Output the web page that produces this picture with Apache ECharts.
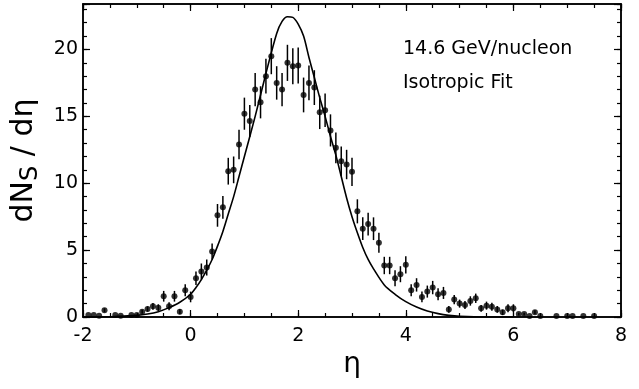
<!DOCTYPE html>
<html>
<head>
<meta charset="utf-8">
<script src="https://cdn.jsdelivr.net/npm/echarts@6/dist/echarts.min.js"></script>
<style>
html,body{margin:0;padding:0;background:#fff;}
#c{width:639px;height:389px;}
</style>
</head>
<body>
<div id="c"></div>
<script>
// Measured points: pseudorapidity, dN_S/deta, error half-length
const eta = [-1.9,-1.8,-1.7,-1.6,-1.4,-1.3,-1.1,-1.0,-0.9,-0.8,-0.7,-0.6,-0.5,-0.4,-0.3,-0.2,-0.1,0.0,0.1,0.2,0.3,0.4,0.5,0.6,0.7,0.8,0.9,1.0,1.1,1.2,1.3,1.4,1.5,1.6,1.7,1.8,1.9,2.0,2.1,2.2,2.3,2.4,2.5,2.6,2.7,2.8,2.9,3.0,3.1,3.2,3.3,3.4,3.5,3.6,3.7,3.8,3.9,4.0,4.1,4.2,4.3,4.4,4.5,4.6,4.7,4.8,4.9,5.0,5.1,5.2,5.3,5.4,5.5,5.6,5.7,5.8,5.9,6.0,6.1,6.2,6.3,6.4,6.5,6.8,7.0,7.1,7.3,7.5];
const dNdEta = [0.15,0.15,0.1,0.5,0.15,0.1,0.15,0.15,0.4,0.6,0.8,0.7,1.55,0.8,1.55,0.4,2.0,1.5,2.9,3.4,3.7,4.9,7.6,8.2,10.9,11.0,12.9,15.2,14.65,17.0,16.05,18.0,19.5,17.5,17.0,19.0,18.75,18.8,16.6,17.5,17.15,15.3,15.45,13.95,12.65,11.65,11.4,10.85,7.9,6.6,6.95,6.6,5.55,3.85,3.85,2.9,3.2,3.9,2.0,2.4,1.5,1.9,2.2,1.7,1.8,0.57,1.3,1.0,0.9,1.2,1.4,0.65,0.85,0.77,0.57,0.35,0.65,0.65,0.22,0.22,0.07,0.35,0.07,0.07,0.07,0.07,0.07,0.07];
const errs = [0,0,0,0.15,0,0,0,0,0.15,0.2,0.25,0.25,0.4,0.3,0.4,0.2,0.45,0.4,0.5,0.6,0.6,0.6,0.85,0.85,1.0,1.0,1.1,1.2,1.2,1.25,1.2,1.3,1.35,1.25,1.25,1.35,1.35,1.35,1.3,1.3,1.3,1.25,1.25,1.2,1.15,1.1,1.1,1.05,0.9,0.85,0.85,0.85,0.75,0.65,0.65,0.6,0.6,0.65,0.45,0.5,0.4,0.45,0.5,0.45,0.45,0.25,0.35,0.3,0.3,0.35,0.35,0.25,0.3,0.3,0.25,0.2,0.3,0.3,0.1,0.1,0,0.15,0,0,0,0,0,0];
// Isotropic fit curve
const fitEta = [-2.0,-1.5,-1.0,-0.8,-0.6,-0.4,-0.2,0.0,0.1,0.2,0.3,0.4,0.5,0.6,0.7,0.8,0.9,1.0,1.2,1.4,1.6,1.7,1.8,1.9,2.0,2.1,2.2,2.3,2.4,2.5,2.6,2.7,2.8,2.9,3.0,3.1,3.2,3.3,3.4,3.6,3.8,4.0,4.2,4.4,4.6,4.8,5.0,5.5,6.0];
const fitVal = [0.0,0.02,0.12,0.22,0.4,0.7,1.1,1.7,2.2,2.8,3.5,4.3,5.3,6.4,7.7,9.0,10.5,12.0,15.0,18.2,21.2,22.1,22.45,22.4,21.9,21.0,19.4,17.9,16.4,15.0,13.5,12.1,10.5,8.9,7.5,6.3,5.2,4.3,3.6,2.4,1.7,1.15,0.75,0.45,0.25,0.12,0.05,0.0,0.0];
const annotations = ['14.6 GeV/nucleon', 'Isotropic Fit'];

const FONT = 'DejaVu Sans';
const chart = echarts.init(document.getElementById('c'), null, {renderer: 'canvas'});

const pts = eta.map((x, i) => [x, dNdEta[i]]);
const bars = eta.map((x, i) => [x, dNdEta[i] - errs[i], dNdEta[i] + errs[i]]).filter((d, i) => errs[i] > 0);
const fit = fitEta.map((x, i) => [x, fitVal[i]]);

const X = {min: -2, max: 8};
const Y = {min: 0, max: 23.4};
const lineStyle = {color: '#000', width: 1.5};

function xAx(pos, interval, len, labels, extra) {
  return Object.assign({
    type: 'value', position: pos, min: X.min, max: X.max, interval: interval,
    axisLine: {show: true, onZero: false, lineStyle: lineStyle},
    axisTick: {show: true, inside: true, length: len, lineStyle: {color: '#000', width: 1.2}},
    axisLabel: {show: labels, color: '#000', fontFamily: FONT, fontSize: 19, margin: 10},
    splitLine: {show: false}
  }, extra || {});
}
function yAx(pos, interval, len, labels, extra) {
  return Object.assign({
    type: 'value', position: pos, min: Y.min, max: Y.max, interval: interval,
    axisLine: {show: true, onZero: false, lineStyle: lineStyle},
    axisTick: {show: true, inside: true, length: len, lineStyle: {color: '#000', width: 1.2}},
    axisLabel: {show: labels, color: '#000', fontFamily: FONT, fontSize: 19, margin: 5,
      formatter: v => (Math.abs(v % 5) < 1e-9 ? String(v) : '')},
    splitLine: {show: false}
  }, extra || {});
}

chart.setOption({
  animation: false,
  backgroundColor: '#fff',
  grid: {left: 83, right: 18, top: 4, bottom: 72, containLabel: false},
  xAxis: [
    xAx('bottom', 2, 7, true, {name: 'η', nameLocation: 'middle', nameGap: 34,
      nameTextStyle: {color: '#000', fontFamily: FONT, fontSize: 28}}),
    xAx('bottom', 0.5, 4, false),
    xAx('top', 2, 7, false),
    xAx('top', 0.5, 4, false)
  ],
  yAxis: [
    yAx('left', 5, 7, true, {name: '{a|dN}{s|S}{a| / dη}', nameLocation: 'middle', nameGap: 40, nameRotate: 90,
      nameTextStyle: {color: '#000', rich: {
        a: {fontFamily: FONT, fontSize: 30, color: '#000', lineHeight: 38},
        s: {fontFamily: FONT, fontSize: 24, color: '#000', lineHeight: 16, verticalAlign: 'bottom'}
      }}}),
    yAx('left', 1, 4, false),
    yAx('right', 5, 7, false),
    yAx('right', 1, 4, false)
  ],
  series: [
    {
      type: 'line', name: 'fit', data: fit, xAxisIndex: 0, yAxisIndex: 0,
      smooth: 0.3, showSymbol: false, symbol: 'none',
      lineStyle: {color: '#000', width: 1.6}, z: 2
    },
    {
      type: 'custom', name: 'err', data: bars, xAxisIndex: 0, yAxisIndex: 0,
      renderItem: function (params, api) {
        const lo = api.coord([api.value(0), api.value(1)]);
        const hi = api.coord([api.value(0), api.value(2)]);
        return {type: 'line', shape: {x1: lo[0], y1: lo[1], x2: hi[0], y2: hi[1]},
          style: {stroke: '#000', lineWidth: 1.5}};
      },
      encode: {x: 0, y: [1, 2]}, z: 3
    },
    {
      type: 'scatter', name: 'data', data: pts, xAxisIndex: 0, yAxisIndex: 0,
      symbol: 'circle', symbolSize: 6, itemStyle: {color: '#000'}, z: 4
    }
  ],
  graphic: [
    {type: 'text', left: 403, top: 40, style: {text: annotations[0], fontFamily: FONT, fontSize: 19, fill: '#000'}},
    {type: 'text', left: 403, top: 74, style: {text: annotations[1], fontFamily: FONT, fontSize: 19, fill: '#000'}}
  ]
});
</script>
</body>
</html>
